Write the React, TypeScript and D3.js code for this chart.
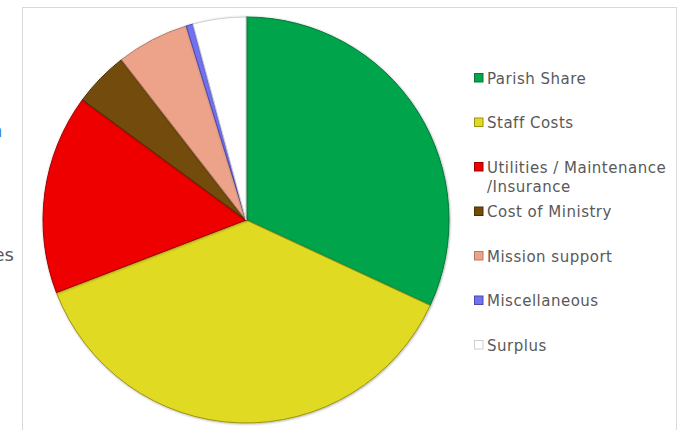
import React from "react";
import * as d3 from "d3";

const categories = [
  "Parish Share",
  "Staff Costs",
  "Utilities / Maintenance /Insurance",
  "Cost of Ministry",
  "Mission support",
  "Miscellaneous",
  "Surplus",
];
const values = [31.9, 37.25, 15.9, 4.4, 5.75, 0.55, 4.2];
const colors = ["#06a54c", "#e0da24", "#ee0202", "#734c09", "#eda28a", "#7272f0", "#ffffff"];
const strokes = ["#04773a", "#9a9410", "#a00000", "#4a3005", "#b57a66", "#4a4ab0", "#cfcfcf"];
const legendLines = [
  ["Parish Share"],
  ["Staff Costs"],
  ["Utilities / Maintenance", "/Insurance"],
  ["Cost of Ministry"],
  ["Mission support"],
  ["Miscellaneous"],
  ["Surplus"],
];

export default function App() {
  const W = 688, H = 430;
  const cx = 246, cy = 220, r = 203;
  const pie = d3.pie<number>().sort(null).value((d) => d);
  const arcs = pie(values);
  const arc = d3.arc<d3.PieArcDatum<number>>().innerRadius(0).outerRadius(r);
  const legendY = d3.scaleLinear().domain([0, 1]).range([78, 122.5]);
  const font = "'DejaVu Sans', Verdana, sans-serif";
  return (
    <svg width={W} height={H} style={{ position: "fixed", left: 0, top: 0, background: "#fff" }}>
      <defs>
        <filter id="sh" x="-10%" y="-10%" width="120%" height="120%">
          <feDropShadow dx="0.6" dy="0.6" stdDeviation="0.8" floodColor="#000" floodOpacity="0.35" />
        </filter>
      </defs>
      <text x={14} y={261} textAnchor="end" fontFamily={font} fontSize={18} fill="#595959">es</text>
      <text x={2.5} y={137} textAnchor="end" fontFamily={font} fontSize={18} fill="#3f7fc4">n</text>
      <rect x={22.5} y={7.5} width={654} height={440} fill="#fff" stroke="#d9d9d9" strokeWidth={1} />
      <g transform={`translate(${cx},${cy})`}>
        {arcs.map((a, i) => (
          <path key={categories[i]} d={arc(a) || ""} fill={colors[i]} stroke={strokes[i]} strokeWidth={1} filter="url(#sh)" />
        ))}
      </g>
      <g fontFamily={font} fontSize={15} fill="#595959" letterSpacing={0.5}>
        {legendLines.map((lines, i) => {
          const y = legendY(i);
          return (
            <g key={categories[i]}>
              <rect x={474.5} y={y - 4.5} width={8.5} height={8.5} fill={colors[i]} stroke={strokes[i]} strokeWidth={1} />
              {lines.map((t, j) => (
                <text key={t} x={487} y={y + 5.5 + j * 19.5}>{t}</text>
              ))}
            </g>
          );
        })}
      </g>
    </svg>
  );
}
